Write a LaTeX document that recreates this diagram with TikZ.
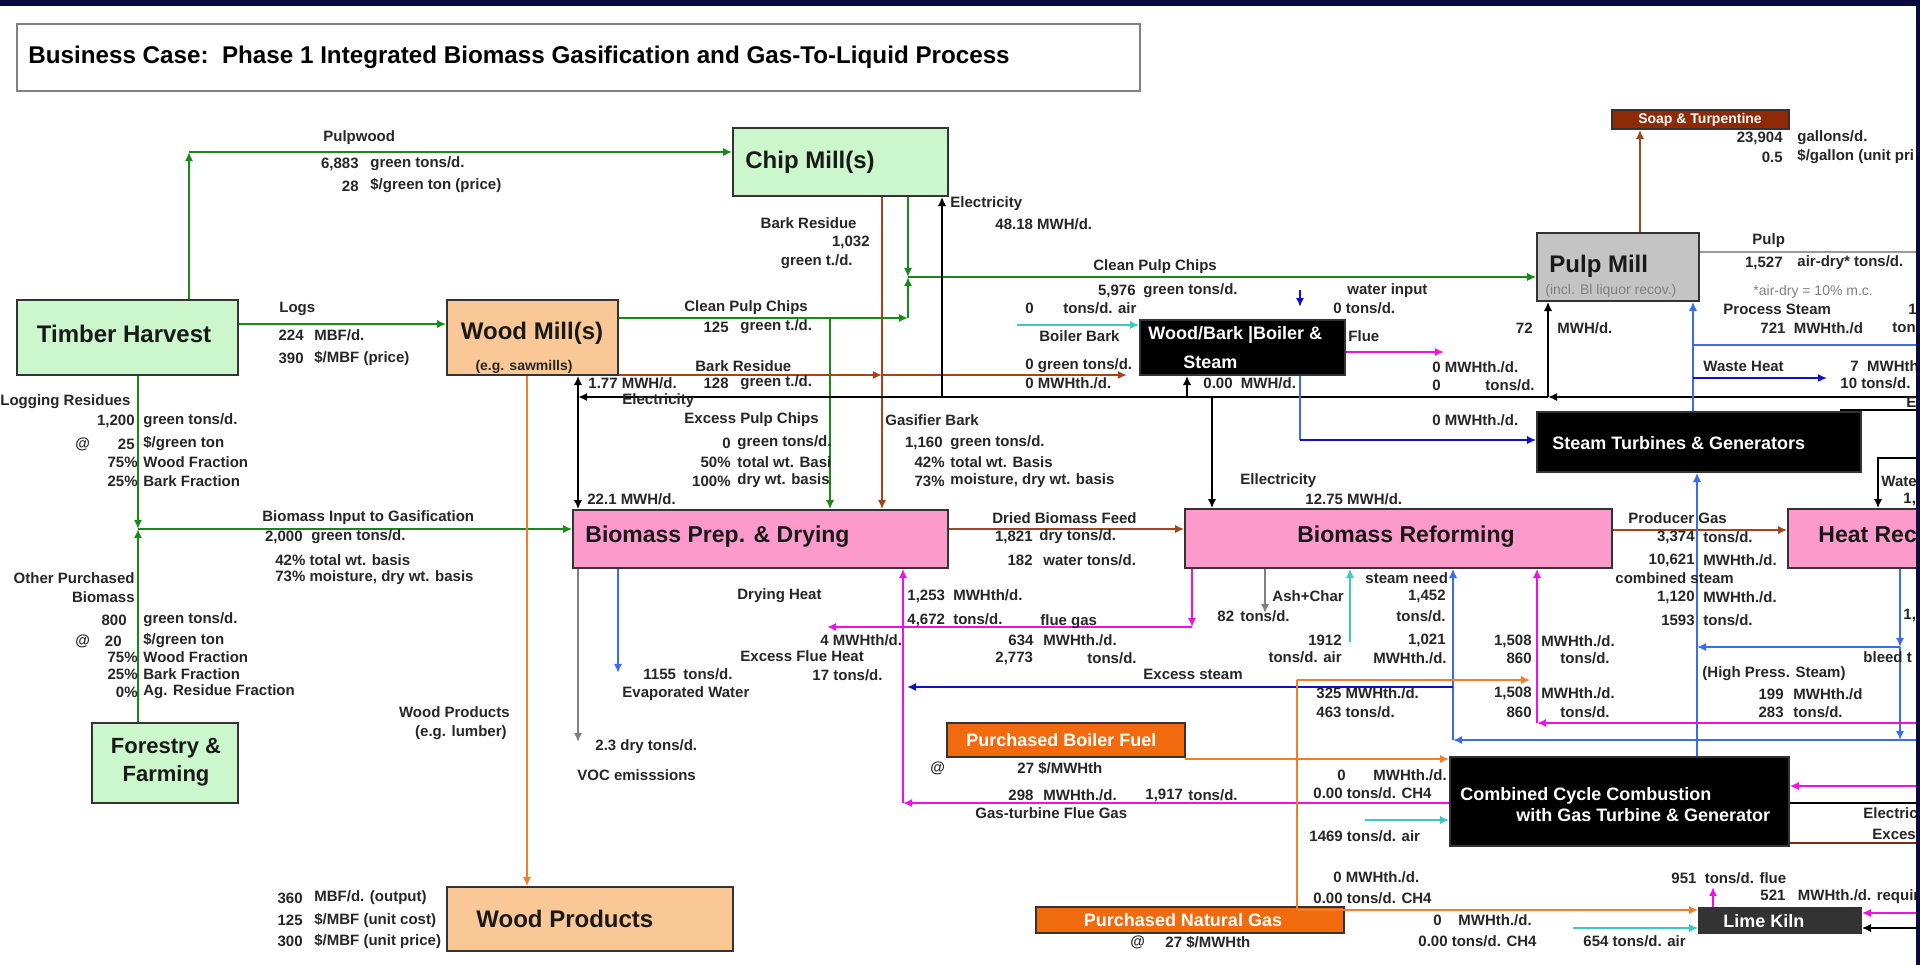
\documentclass[tikz,border=0pt]{standalone}
\usepackage{fontspec}
\setmainfont{Liberation Sans}
\usetikzlibrary{arrows.meta,fit}
\definecolor{navy}{HTML}{0B0B3B}
\definecolor{flowgreen}{HTML}{168C16}
\definecolor{barkbrown}{HTML}{A4441C}
\definecolor{chipfill}{HTML}{CCF7CC}
\definecolor{millfill}{HTML}{F9C896}
\definecolor{prepfill}{HTML}{FB9ACB}
\definecolor{pulpfill}{HTML}{C4C4C4}
\definecolor{soapfill}{HTML}{8E2A06}
\definecolor{fuelfill}{HTML}{F26A0E}
\definecolor{fuelline}{HTML}{F47D2A}
\definecolor{steamblue}{HTML}{3A6CF0}
\definecolor{darkblue}{HTML}{1010C8}
\definecolor{airteal}{HTML}{3CC8C0}
\definecolor{fluemag}{HTML}{F011E6}
\definecolor{kilnfill}{HTML}{333333}

\begin{document}
\begin{tikzpicture}[x=0.5pt,y=-0.5pt,
    box/.style={draw=black!80, line width=0.8pt, inner sep=0pt},
    head/.style={font=\fontsize{12}{14}\selectfont\bfseries, inner sep=0pt, text=black!90},
    lbl/.style={font=\fontsize{7.5}{9}\selectfont\bfseries, inner sep=0pt, anchor=west, text=black!85},
    rlbl/.style={lbl, anchor=east},
    wlbl/.style={font=\fontsize{9}{11}\selectfont\bfseries, inner sep=0pt, anchor=west, text=white},
    flow/.style={line width=1.3pt, -{Latex[length=4.6pt,width=4.2pt]}},
    gflow/.style={flow, draw=flowgreen},
    bflow/.style={flow, draw=barkbrown},
    eflow/.style={flow, draw=black, line width=1.2pt},
    sflow/.style={flow, draw=steamblue},
    dflow/.style={flow, draw=darkblue},
    mflow/.style={flow, draw=fluemag},
    aflow/.style={flow, draw=airteal},
    oflow/.style={flow, draw=fuelline}]
\useasboundingbox (0,0) rectangle (1920,965);
\fill[white] (0,0) rectangle (1920,965);
\begin{scope}
\clip (0,0) rectangle (1916,965);
% boxes
\node[box, draw=gray, line width=1pt, fit={(17,24)(1140,91)}] (title) {};
\node[lbl, font=\fontsize{12.1}{14}\selectfont\bfseries, text=black] (titletxt) at (28,57) {Business Case:\ \ Phase 1 Integrated Biomass Gasification and Gas-To-Liquid Process};
\node[box, fill=chipfill, fit={(17,300)(238,375)}] (th) {};
\node[box, fill=chipfill, fit={(733,128)(948,196)}] (chip) {};
\node[box, fill=millfill, fit={(447,300)(618,375)}] (wm) {};
\node[box, fill=prepfill, fit={(573,510)(948,568)}] (prep) {};
\node[box, fill=black, fit={(1140,320)(1345,375)}] (boiler) {};
\node[box, fill=prepfill, fit={(1185,509)(1612,568)}] (reform) {};
\node[box, fill=pulpfill, fit={(1537,233)(1699,301)}] (pulp) {};
\node[box, fill=soapfill, fit={(1612,110)(1789,129)}] (soap) {};
\node[box, fill=black, fit={(1537,412)(1861,472)}] (turb) {};
\node[box, fill=prepfill, fit={(1788,509)(1960,568)}] (heat) {};
\node[box, fill=black, fit={(1450,757)(1789,846)}] (cc) {};
\node[box, fill=kilnfill, fit={(1699,908)(1861,933)}] (kiln) {};
\node[box, fill=fuelfill, fit={(947,723)(1185,757)}] (bfuel) {};
\node[box, fill=fuelfill, fit={(1036,907)(1344,933)}] (ngas) {};
\node[box, fill=chipfill, fit={(92,723)(238,803)}] (ff) {};
\node[box, fill=millfill, fit={(447,887)(733,951)}] (wp) {};
% green flows
\coordinate (pwc) at (189,152);
\draw[gflow] (th.north -| pwc) -- (pwc);
\draw[gflow] (pwc) -- (pwc -| chip.west);
\coordinate (lg) at (240,324);
\draw[gflow] (th.east |- lg) -- (lg -| wm.west);
\coordinate (bj) at (138,529);
\draw[gflow] (th.south -| bj) -- (bj);
\draw[gflow] (ff.north -| bj) -- (bj);
\draw[gflow] (bj) -- (bj -| prep.west);
\coordinate (cj) at (908,277);
\coordinate (wc) at (908,318);
\draw[gflow] (chip.south -| cj) -- (cj);
\draw[gflow] (wm.east |- wc) -- (wc);
\draw[gflow] (wc) -- (cj);
\draw[gflow, line width=0.9pt] (cj) -- (cj -| pulp.west);
\coordinate (xc) at (830,318);
\draw[gflow] (xc) -- (xc |- prep.north);
% bark and gas
\coordinate (bk) at (882,375);
\coordinate (bb) at (1127,375);
\draw[bflow] (chip.south -| bk) -- (bk |- prep.north);
\draw[bflow] (wm.east |- bk) -- (bk);
\draw[bflow] (bk) -- (bb);
\coordinate (df) at (950,529);
\draw[bflow] (prep.east |- df) -- (df -| reform.west);
\coordinate (pg) at (1612,530);
\draw[bflow] (reform.east |- pg) -- (pg -| heat.west);
\coordinate (sp) at (1640,200);
\draw[bflow] (pulp.north -| sp) -- (sp |- soap.south);
\coordinate (pp) at (1920,252);
\draw[gray!80, line width=1pt] (pulp.east |- pp) -- (pp);
% electricity
\coordinate (eL) at (578,397);
\coordinate (eR) at (1920,397);
\coordinate (ePm) at (1548,397);
\draw[eflow] (eR) -- (ePm);
\draw[eflow] (ePm) -- (eL);
\draw[eflow] (eL) -- (eL |- wm.south);
\draw[eflow] (eL) -- (eL |- prep.north);
\coordinate (eC) at (942,397);
\draw[eflow] (eC) -- (eC |- chip.south);
\coordinate (eB) at (1187,397);
\draw[eflow] (eB) -- (eB |- boiler.south);
\coordinate (eRf) at (1212,397);
\draw[eflow] (eRf) -- (eRf |- reform.north);
\draw[eflow] (ePm) -- (ePm |- pulp.south);
\coordinate (eT1) at (1840,410);
\coordinate (eT2) at (1920,410);
\draw[eflow, -] (eT1) -- (eT2);
\coordinate (wH) at (1878,458);
\coordinate (wH2) at (1920,458);
\draw[eflow] (wH2) -- (wH) -- (wH |- heat.north);
\coordinate (ccE) at (1920,803);
\draw[eflow, -] (cc.east |- ccE) -- (ccE);
\coordinate (kB) at (1920,928);
\draw[eflow] (kB) -- (kB -| kiln.east);
\coordinate (ccX) at (1920,843);
\draw[barkbrown!70!black, line width=1.2pt] (cc.east |- ccX) -- (ccX);
% steam
\coordinate (wi) at (1300,290);
\coordinate (wi2) at (1300,307);
\draw[dflow] (wi) -- (wi2);
\coordinate (bs) at (1300,440);
\draw[sflow, -] (boiler.south -| bs) -- (bs);
\draw[dflow] (bs) -- (bs -| turb.west);
\coordinate (ts) at (1693,345);
\draw[sflow] (turb.north -| ts) -- (ts |- pulp.south);
\coordinate (ps) at (1920,345);
\draw[sflow, -] (ts) -- (ps);
\coordinate (wh1) at (1693,378);
\coordinate (wh2) at (1827,378);
\draw[dflow] (wh1) -- (wh2);
\coordinate (cs) at (1697,740);
\draw[sflow] (cc.north -| cs) -- (cs |- turb.south);
\coordinate (hb) at (1900,647);
\coordinate (hb2) at (1900,740);
\draw[sflow] (heat.south -| hb) -- (hb);
\draw[sflow] (hb) -- (hb -| cs);
\draw[sflow] (hb) -- (hb2);
\coordinate (rs) at (1453,740);
\coordinate (rsR) at (1920,740);
\draw[sflow] (rsR) -- (rs);
\draw[sflow] (rs) -- (rs |- reform.south);
\coordinate (xs) at (1453,687);
\coordinate (xsL) at (907,687);
\draw[dflow] (xs) -- (xsL);
\coordinate (ev) at (618,673);
\draw[sflow] (prep.south -| ev) -- (ev);
% flue gas
\coordinate (fl1) at (1444,352);
\draw[mflow] (boiler.east |- fl1) -- (fl1);
\coordinate (fg) at (1192,627);
\coordinate (fgL) at (827,627);
\draw[mflow] (reform.south -| fg) -- (fg);
\draw[mflow] (fg) -- (fgL);
\coordinate (gt) at (903,803);
\draw[mflow] (cc.west |- gt) -- (gt);
\draw[mflow] (gt) -- (gt |- prep.south);
\coordinate (hm) at (1537,723);
\coordinate (hmR) at (1920,723);
\draw[mflow] (hmR) -- (hm);
\draw[mflow] (hm) -- (hm |- reform.south);
\coordinate (cm) at (1920,786);
\draw[mflow] (cm) -- (cm -| cc.east);
\coordinate (kf) at (1713,887);
\draw[mflow] (kiln.north -| kf) -- (kf);
\coordinate (km) at (1920,913);
\draw[mflow] (km) -- (km -| kiln.east);
% air
\coordinate (ba) at (1017,325);
\draw[aflow] (ba) -- (ba -| boiler.west);
\coordinate (ra) at (1350,642);
\draw[aflow] (ra) -- (ra |- reform.south);
\coordinate (ca) at (1365,820);
\draw[aflow] (ca) -- (ca -| cc.west);
\coordinate (ka) at (1573,928);
\draw[aflow] (ka) -- (ka -| kiln.west);
% ash, voc
\coordinate (ac) at (1265,613);
\draw[flow, draw=gray] (reform.south -| ac) -- (ac);
\coordinate (vo) at (578,742);
\draw[flow, draw=gray] (prep.south -| vo) -- (vo);
% wood products, fuel
\coordinate (wpx) at (527,500);
\draw[oflow] (wm.south -| wpx) -- (wpx |- wp.north);
\coordinate (ng) at (1297,910);
\coordinate (ngT) at (1297,680);
\coordinate (ngR) at (1530,680);
\draw[oflow, -] (ng) -- (ngT);
\draw[oflow] (ngT) -- (ngR);
\draw[oflow] (ng) -- (ng -| kiln.west);
\coordinate (bf) at (1185,759);
\draw[oflow] (bf) -- (bf -| cc.west);

% box texts
\node[head] (thtxt) at (124,334) {Timber Harvest};
\node[head, font=\fontsize{11}{14}\selectfont\bfseries, align=center] (fftxt) at (166,762) {Forestry \&\\Farming};
\node[head, anchor=west] (chiptxt) at (745,162) {Chip Mill(s)};
\node[head] (wmtxt) at (532,333) {Wood Mill(s)};
\node[lbl, font=\fontsize{7}{8}\selectfont\bfseries, anchor=center] (wmsub) at (524,367) {(e.g. sawmills)};
\node[head, font=\fontsize{11.5}{14}\selectfont\bfseries, anchor=west] (preptxt) at (585,537) {Biomass Prep. \& Drying};
\node[head, font=\fontsize{11.5}{14}\selectfont\bfseries] (reftxt) at (1406,537) {Biomass Reforming};
\node[head, font=\fontsize{11.5}{14}\selectfont\bfseries, anchor=west] (heattxt) at (1818,535) {Heat Rec};
\node[head, anchor=west] (wptxt) at (476,919) {Wood Products};
\node[head, anchor=west] (pulptxt) at (1549,266) {Pulp Mill};
\node[lbl, font=\fontsize{7}{8}\selectfont, text=gray] (pulpsub) at (1545,291) {(incl. Bl liquor recov.)};
\node[wlbl, font=\fontsize{7}{8}\selectfont\bfseries, anchor=center] (soaptxt) at (1700,120) {Soap \& Turpentine};
\node[wlbl] (boil1) at (1148,335) {Wood/Bark |Boiler \&};
\node[wlbl] (boil2) at (1183,362) {Steam};
\node[wlbl] (turbtxt) at (1552,443) {Steam Turbines \& Generators};
\node[wlbl] (cc1) at (1460,796) {Combined Cycle Combustion};
\node[wlbl] (cc2) at (1516,815) {with Gas Turbine \& Generator};
\node[wlbl] (kilntxt) at (1723,921) {Lime Kiln};
\node[wlbl] (bfueltxt) at (966,740) {Purchased Boiler Fuel};
\node[wlbl, anchor=center] (ngastxt) at (1183,920) {Purchased Natural Gas};

% labels left
\node[lbl] (pw1) at (323,138) {Pulpwood};
\node[rlbl] (pw2) at (359,164) {6,883};
\node[lbl] (pw3) at (370,164) {green tons/d.};
\node[rlbl] (pw4) at (359,186) {28};
\node[lbl] (pw5) at (370,186) {\$/green ton (price)};
\node[lbl] (lg1) at (279,309) {Logs};
\node[rlbl] (lg2) at (304,335) {224};
\node[lbl] (lg3) at (314,335) {MBF/d.};
\node[rlbl] (lg4) at (304,358) {390};
\node[lbl] (lg5) at (314,358) {\$/MBF (price)};
\node[lbl] (lr1) at (0,402) {Logging Residues};
\node[rlbl] (lr2) at (135,421) {1,200};
\node[lbl] (lr3) at (143,421) {green tons/d.};
\node[lbl] (lr4) at (75,444) {@};
\node[rlbl] (lr5) at (135,444) {25};
\node[lbl] (lr6) at (143,444) {\$/green ton};
\node[rlbl] (lr7) at (138,462) {75\%};
\node[lbl] (lr8) at (143,462) {Wood Fraction};
\node[rlbl] (lr9) at (138,481) {25\%};
\node[lbl] (lr10) at (143,481) {Bark Fraction};
\node[rlbl] (op1) at (135,578) {Other Purchased};
\node[rlbl] (op2) at (135,597) {Biomass};
\node[rlbl] (op3) at (127,620) {800};
\node[lbl] (op4) at (143,620) {green tons/d.};
\node[lbl] (op5) at (75,641) {@};
\node[rlbl] (op6) at (122,641) {20};
\node[lbl] (op7) at (143,641) {\$/green ton};
\node[rlbl] (op8) at (138,657) {75\%};
\node[lbl] (op9) at (143,657) {Wood Fraction};
\node[rlbl] (op10) at (138,674) {25\%};
\node[lbl] (op11) at (143,674) {Bark Fraction};
\node[rlbl] (op12) at (138,692) {0\%};
\node[lbl] (op13) at (143,692) {Ag. Residue Fraction};
\node[lbl] (bi1) at (262,518) {Biomass Input to Gasification};
\node[rlbl] (bi2) at (303,537) {2,000};
\node[lbl] (bi3) at (311,537) {green tons/d.};
\node[lbl] (bi4) at (275,560) {42\% total wt. basis};
\node[lbl] (bi5) at (275,578) {73\% moisture, dry wt. basis};
\node[rlbl] (wo1) at (510,712) {Wood Products};
\node[rlbl] (wo2) at (507,733) {(e.g. lumber)};
\node[rlbl] (wo3) at (303,898) {360};
\node[lbl] (wo4) at (314,898) {MBF/d. (output)};
\node[rlbl] (wo5) at (303,920) {125};
\node[lbl] (wo6) at (314,920) {\$/MBF (unit cost)};
\node[rlbl] (wo7) at (303,941) {300};
\node[lbl] (wo8) at (314,941) {\$/MBF (unit price)};
% labels middle
\node[rlbl] (br1) at (857,223) {Bark Residue};
\node[rlbl] (br2) at (870,242) {1,032};
\node[rlbl] (br3) at (853,262) {green t./d.};
\node[lbl] (el1) at (950,204) {Electricity};
\node[lbl] (el2) at (995,224) {48.18 MWH/d.};
\node[lbl] (cp1) at (684,308) {Clean Pulp Chips};
\node[rlbl] (cp2) at (729,327) {125};
\node[lbl] (cp3) at (740,327) {green t./d.};
\node[lbl] (wb1) at (695,366) {Bark Residue};
\node[rlbl] (wb2) at (729,383) {128};
\node[lbl] (wb3) at (740,383) {green t./d.};
\node[lbl] (el3) at (588,383) {1.77 MWH/d.};
\node[lbl] (el4) at (622,401) {Electricity};
\node[lbl] (xp1) at (684,420) {Excess Pulp Chips};
\node[rlbl] (xp2) at (731,443) {0};
\node[lbl] (xp3) at (737,443) {green tons/d.};
\node[rlbl] (xp4) at (731,462) {50\%};
\node[lbl] (xp5) at (737,462) {total wt. Basi};
\node[rlbl] (xp6) at (731,481) {100\%};
\node[lbl] (xp7) at (737,481) {dry wt. basis};
\node[lbl] (gb1) at (885,420) {Gasifier Bark};
\node[rlbl] (gb2) at (943,443) {1,160};
\node[lbl] (gb3) at (950,443) {green tons/d.};
\node[rlbl] (gb4) at (945,462) {42\%};
\node[lbl] (gb5) at (950,462) {total wt. Basis};
\node[rlbl] (gb6) at (945,481) {73\%};
\node[lbl] (gb7) at (950,481) {moisture, dry wt. basis};
\node[lbl] (el5) at (587,499) {22.1 MWH/d.};
\node[lbl] (vc1) at (595,747) {2.3 dry tons/d.};
\node[lbl] (vc2) at (577,775) {VOC emisssions};
\node[lbl] (ew1) at (643,674) {1155};
\node[lbl] (ew2) at (683,674) {tons/d.};
\node[lbl] (ew3) at (622,694) {Evaporated Water};
\node[lbl] (dh1) at (737,596) {Drying Heat};
\node[lbl] (dh2) at (907,596) {1,253\ \ MWHth/d.};
\node[lbl] (dh3) at (907,620) {4,672\ \ tons/d.};
\node[lbl] (xf1) at (820,640) {4 MWHth/d.};
\node[lbl] (xf2) at (740,656) {Excess Flue Heat};
\node[lbl] (xf3) at (812,675) {17};
\node[lbl] (xf4) at (833,675) {tons/d.};
\node[lbl] (fg1) at (1040,622) {flue gas};
\node[lbl] (fg2) at (1008,640) {634};
\node[lbl] (fg3) at (1043,640) {MWHth./d.};
\node[lbl] (fg4) at (995,658) {2,773};
\node[lbl] (fg5) at (1087,658) {tons/d.};
\node[lbl] (xs1) at (1143,674) {Excess steam};
\node[lbl] (db1) at (992,518) {Dried Biomass Feed};
\node[rlbl] (db2) at (1033,537) {1,821};
\node[lbl] (db3) at (1039,537) {dry tons/d.};
\node[rlbl] (db4) at (1033,560) {182};
\node[lbl] (db5) at (1043,560) {water tons/d.};
\node[lbl] (bo1) at (1025,308) {0};
\node[lbl] (bo2) at (1063,308) {tons/d. air};
\node[lbl] (bo3) at (1039,336) {Boiler Bark};
\node[lbl] (bo4) at (1025,366) {0 green tons/d.};
\node[lbl] (bo5) at (1025,383) {0 MWHth./d.};
\node[lbl] (bo6) at (1203,383) {0.00\ \ MWH/d.};
\node[lbl] (bo7) at (1347,291) {water input};
\node[lbl] (bo8) at (1333,308) {0 tons/d.};
\node[lbl] (bo9) at (1348,336) {Flue};
\node[lbl] (bo10) at (1432,367) {0 MWHth./d.};
\node[lbl] (bo11) at (1432,385) {0};
\node[lbl] (bo12) at (1485,385) {tons/d.};
\node[lbl] (bo13) at (1432,420) {0 MWHth./d.};
\node[lbl] (cl1) at (1093,267) {Clean Pulp Chips};
\node[rlbl] (cl2) at (1136,291) {5,976};
\node[lbl] (cl3) at (1143,291) {green tons/d.};
\node[lbl] (er1) at (1240,481) {Ellectricity};
\node[lbl] (er2) at (1305,499) {12.75 MWH/d.};
\node[lbl] (as1) at (1272,596) {Ash+Char};
\node[lbl] (as2) at (1217,616) {82};
\node[lbl] (as3) at (1240,616) {tons/d.};
\node[rlbl] (ra1) at (1342,640) {1912};
\node[rlbl] (ra2) at (1342,657) {tons/d. air};
\node[lbl] (sn1) at (1365,578) {steam need};
\node[rlbl] (sn2) at (1446,596) {1,452};
\node[rlbl] (sn3) at (1446,616) {tons/d.};
\node[rlbl] (sn4) at (1446,640) {1,021};
\node[rlbl] (sn5) at (1447,658) {MWHth./d.};
\node[rlbl] (hm1) at (1532,641) {1,508};
\node[lbl] (hm2) at (1541,641) {MWHth./d.};
\node[rlbl] (hm3) at (1532,658) {860};
\node[lbl] (hm4) at (1560,658) {tons/d.};
\node[rlbl] (hm5) at (1532,693) {1,508};
\node[lbl] (hm6) at (1541,693) {MWHth./d.};
\node[rlbl] (hm7) at (1532,712) {860};
\node[lbl] (hm8) at (1560,712) {tons/d.};
\node[lbl] (ng1) at (1316,693) {325 MWHth./d.};
\node[lbl] (ng2) at (1316,712) {463 tons/d.};
\node[lbl] (ng3) at (1337,775) {0};
\node[lbl] (ng4) at (1373,775) {MWHth./d.};
\node[lbl] (ng5) at (1313,793) {0.00 tons/d. CH4};
\node[lbl] (ng6) at (1309,836) {1469 tons/d. air};
\node[lbl] (ng7) at (1333,877) {0 MWHth./d.};
\node[lbl] (ng8) at (1313,898) {0.00 tons/d. CH4};
\node[lbl] (ng9) at (1433,920) {0};
\node[lbl] (ng10) at (1458,920) {MWHth./d.};
\node[lbl] (ng11) at (1418,941) {0.00 tons/d. CH4};
\node[lbl] (ng12) at (1130,942) {@};
\node[lbl] (ng13) at (1165,942) {27 \$/MWHth};
\node[lbl] (bf1) at (930,768) {@};
\node[lbl] (bf2) at (1017,768) {27 \$/MWHth};
\node[lbl] (gt1) at (1008,795) {298};
\node[lbl] (gt2) at (1043,795) {MWHth./d.};
\node[lbl] (gt3) at (1145,795) {1,917};
\node[lbl] (gt4) at (1188,795) {tons/d.};
\node[lbl] (gt5) at (975,813) {Gas-turbine Flue Gas};
% labels right
\node[lbl] (lk1) at (1583,941) {654 tons/d. air};
\node[lbl] (lk2) at (1671,878) {951\ \ tons/d. flue};
\node[lbl] (lk3) at (1760,897) {521\ \ \ MWHth./d. requir};
\node[lbl] (cx1) at (1863,813) {Electric};
\node[lbl] (cx2) at (1872,834) {Exces};
\node[lbl] (pr1) at (1628,518) {Producer Gas};
\node[rlbl] (pr2) at (1695,537) {3,374};
\node[lbl] (pr3) at (1703,537) {tons/d.};
\node[rlbl] (pr4) at (1695,560) {10,621};
\node[lbl] (pr5) at (1703,560) {MWHth./d.};
\node[lbl] (pr6) at (1615,578) {combined steam};
\node[rlbl] (pr7) at (1695,597) {1,120};
\node[lbl] (pr8) at (1703,597) {MWHth./d.};
\node[rlbl] (pr9) at (1695,620) {1593};
\node[lbl] (pr10) at (1703,620) {tons/d.};
\node[lbl] (hr1) at (1881,481) {Wate};
\node[lbl] (hr2) at (1903,499) {1,};
\node[lbl] (hr3) at (1903,615) {1,};
\node[lbl] (hp1) at (1702,674) {(High Press. Steam)};
\node[rlbl] (hp2) at (1784,694) {199};
\node[lbl] (hp3) at (1793,694) {MWHth./d};
\node[rlbl] (hp4) at (1784,712) {283};
\node[lbl] (hp5) at (1793,712) {tons/d.};
\node[lbl] (hp6) at (1863,657) {bleed t};
\node[lbl] (wh3) at (1703,366) {Waste Heat};
\node[lbl] (wh4) at (1850,366) {7\ \ MWHth};
\node[lbl] (wh5) at (1840,383) {10 tons/d.};
\node[lbl] (tb1) at (1906,402) {E};
\node[rlbl] (pm1) at (1533,328) {72};
\node[lbl] (pm2) at (1557,328) {MWH/d.};
\node[lbl] (pu1) at (1752,241) {Pulp};
\node[rlbl] (pu2) at (1783,263) {1,527};
\node[lbl] (pu3) at (1797,263) {air-dry* tons/d.};
\node[lbl, font=\fontsize{7}{8}\selectfont, text=gray] (pu4) at (1753,292) {*air-dry = 10\% m.c.};
\node[lbl] (pu5) at (1723,309) {Process Steam};
\node[lbl] (pu6) at (1908,309) {1};
\node[lbl] (pu7) at (1760,328) {721\ \ MWHth./d};
\node[lbl] (pu8) at (1892,328) {ton};
\node[rlbl] (so1) at (1783,138) {23,904};
\node[lbl] (so2) at (1797,138) {gallons/d.};
\node[rlbl] (so3) at (1783,157) {0.5};
\node[lbl] (so4) at (1797,157) {\$/gallon (unit pri};
\end{scope}
\fill[navy] (0,0) rectangle (1920,6);
\fill[navy] (1916,0) rectangle (1920,965);
\end{tikzpicture}
\end{document}
